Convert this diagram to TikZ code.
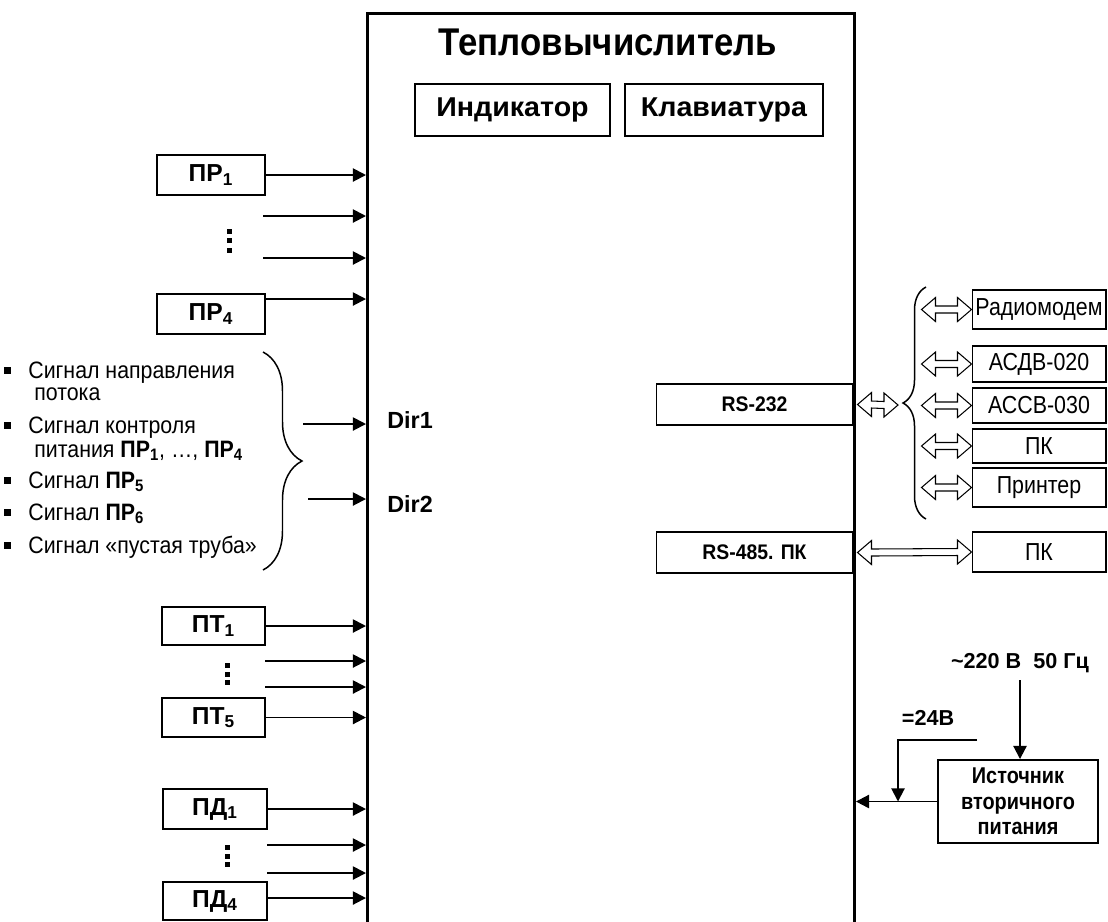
\documentclass[tikz,border=0pt]{standalone}
\usepackage{fontspec}
\setmainfont{Liberation Sans}
\usetikzlibrary{arrows.meta,calc,decorations.pathreplacing}
\begin{document}
\begin{tikzpicture}[x=0.02cm, y=-0.02cm,
  tvbox/.style={draw, line width=1.7pt, inner sep=0pt},
  ttl/.style={font=\fontsize{22}{26}\selectfont\bfseries\addfontfeature{FakeStretch=0.9}, inner sep=0pt},
  ibox/.style={draw, line width=1.4pt, font=\fontsize{15.5}{18}\selectfont\bfseries\addfontfeature{FakeStretch=1.05}, inner sep=0pt, minimum height=1.04cm},
  sensor/.style={draw, line width=1.4pt, font=\fontsize{14}{16}\selectfont\bfseries, inner sep=0pt},
  sig/.style={line width=1.1pt, -{Triangle[length=7.5pt,width=7.5pt]}},
  dirlbl/.style={font=\fontsize{13.3}{16}\selectfont\bfseries, anchor=base west, inner sep=0pt},
  lgd/.style={font=\fontsize{13.5}{16}\selectfont\addfontfeature{FakeStretch=0.9}, anchor=base west, inner sep=0pt},
  rsbox/.style={draw, line width=0.6pt, font=\fontsize{12}{14}\selectfont\bfseries\addfontfeature{FakeStretch=0.92}, inner sep=0pt, minimum width=3.94cm, minimum height=0.82cm},
  rbox/.style={draw, line width=0.6pt, font=\fontsize{14}{16}\selectfont\addfontfeature{FakeStretch=0.87}, inner sep=0pt, minimum width=2.68cm},
  pwr/.style={font=\fontsize{12.3}{14}\selectfont\bfseries, anchor=base, inner sep=0pt},
  pbox/.style={draw, line width=1.1pt, font=\fontsize{13}{14.5}\selectfont\bfseries\addfontfeature{FakeStretch=0.87}, inner sep=0pt, align=center},
  bracestyle/.style={decorate, line width=0.85pt},
  dblarr/.style={draw, line width=0.6pt, line join=miter,
    to path={-- ++(14,-12) -- ++(0,8.5) -- ($(\tikztotarget)+(-14,-3.5)$) -- ++(0,-8.5) -- (\tikztotarget)
             -- ++(-14,12) -- ++(0,-8.5) -- ($(\tikztostart)+(14,3.5)$) -- ++(0,8.5) -- cycle}}
]
\useasboundingbox (0,0) rectangle (1108,921);
\clip (0,0) rectangle (1108,921);

% main unit
\node[tvbox, minimum width=9.74cm, minimum height=18.5cm, anchor=north west] (tv) at (366,12) {};
\node[ttl, anchor=base] (title) at (608,55) {Тепловычислитель};
\node[ibox, minimum width=3.9cm] (ind) at (512.5,110) {Индикатор};
\node[ibox, minimum width=3.96cm] (kbd) at (724,110) {Клавиатура};

% flow sensors
\node[sensor, minimum width=2.16cm, minimum height=0.8cm] (pr1) at (211,175) {ПР\textsubscript{1}};
\node[sensor, minimum width=2.16cm, minimum height=0.8cm] (pr4) at (211,314) {ПР\textsubscript{4}};
\coordinate (r2) at (263,216);
\coordinate (r3) at (263,258);
\draw[sig] (pr1.east) -- (pr1.east -| tv.west);
\draw[sig] (r2) -- (r2 -| tv.west);
\draw[sig] (r3) -- (r3 -| tv.west);
\draw[sig] ([yshift=0.3cm]pr4.east) -- ([yshift=0.3cm]pr4.east -| tv.west);
\foreach \yy in {231.5,240.5,250.5} \fill (227,\yy-2.5) rectangle (232,\yy+2.5);

% temperature sensors
\node[sensor, minimum width=2.06cm, minimum height=0.76cm] (pt1) at (213.5,626) {ПТ\textsubscript{1}};
\node[sensor, minimum width=2.06cm, minimum height=0.78cm] (pt5) at (213.5,717.5) {ПТ\textsubscript{5}};
\coordinate (t2) at (265,661);
\coordinate (t3) at (265,687);
\draw[sig] (pt1.east) -- (pt1.east -| tv.west);
\draw[sig] (t2) -- (t2 -| tv.west);
\draw[sig] (t3) -- (t3 -| tv.west);
\draw[sig] (pt5.east) -- (pt5.east -| tv.west);
\foreach \yy in {665.5,674.5,682.5} \fill (225,\yy-2.5) rectangle (230,\yy+2.5);

% pressure sensors
\node[sensor, minimum width=2.08cm, minimum height=0.8cm] (pd1) at (215,809) {ПД\textsubscript{1}};
\node[sensor, minimum width=2.08cm, minimum height=0.76cm] (pd4) at (215,901) {ПД\textsubscript{4}};
\coordinate (d2) at (267,845);
\coordinate (d3) at (267,873);
\draw[sig] (pd1.east) -- (pd1.east -| tv.west);
\draw[sig] (d2) -- (d2 -| tv.west);
\draw[sig] (d3) -- (d3 -| tv.west);
\draw[sig] ([yshift=0.06cm]pd4.east) -- ([yshift=0.06cm]pd4.east -| tv.west);
\foreach \yy in {847.5,856,864.5} \fill (225,\yy-2.5) rectangle (230,\yy+2.5);

% legend
\foreach \yy in {370,425,480,512,545} \fill (3.5,\yy-3.5) rectangle (10.5,\yy+3.5);
\node[lgd] (l1) at (28,378) {Сигнал направления};
\node[lgd] (l1b) at (34,400) {потока};
\node[lgd] (l2) at (28,433) {Сигнал контроля};
\node[lgd] (l2b) at (34,457) {питания \textbf{ПР\textsubscript{1}}, …, \textbf{ПР\textsubscript{4}}};
\node[lgd] (l3) at (28,488) {Сигнал \textbf{ПР\textsubscript{5}}};
\node[lgd] (l4) at (28,520) {Сигнал \textbf{ПР\textsubscript{6}}};
\node[lgd] (l5) at (28,553) {Сигнал «пустая труба»};
\draw[bracestyle, decoration={brace, amplitude=0.78cm}] (263,352) -- (263,570);
\coordinate (dir1s) at (303,424);
\coordinate (dir2s) at (308,499);
\draw[sig] (dir1s) -- (dir1s -| tv.west);
\draw[sig] (dir2s) -- (dir2s -| tv.west);
\node[dirlbl] (dir1) at (387,428) {Dir1};
\node[dirlbl] (dir2) at (387,512) {Dir2};

% interfaces
\node[rsbox] (rs232) at (754.5,404.5) {RS-232};
\node[rsbox] (rs485) at (754.5,552.5) {RS-485. ПК};
\node[rbox, minimum height=0.78cm] (radio) at (1039,309.5) {Радиомодем};
\node[rbox, minimum height=0.72cm] (asdv) at (1039,364) {АСДВ-020};
\node[rbox, minimum height=0.7cm] (assv) at (1039,405.5) {АССВ-030};
\node[rbox, minimum height=0.68cm] (pk1) at (1039,446) {ПК};
\node[rbox, minimum height=0.78cm] (prn) at (1039,487.5) {Принтер};
\node[rbox, minimum height=0.8cm] (pk2) at (1039,552) {ПК};
\draw[bracestyle, decoration={brace, amplitude=0.46cm}] (926,519) -- (926,287);
\coordinate (b232) at (898,405);
\draw[dblarr] ([xshift=0.08cm]rs232.east) to (b232);
\foreach \n in {radio,asdv,assv,pk1,prn} \draw[dblarr] ([xshift=-1cm]\n.west) to (\n.west);
\draw[dblarr] ([xshift=0.08cm]rs485.east) to (pk2.west);

% power
\node[pwr] (ac) at (1020,668) {\textasciitilde220 В\ \ 50 Гц};
\node[pbox, minimum width=3.2cm, minimum height=1.66cm] (ist) at (1018,801.5) {Источник\\вторичного\\питания};
\coordinate (acs) at (1020,680);
\draw[sig] (acs) -- (acs |- ist.north);
\draw[sig] (ist.west) -- (ist.west -| tv.east);
\node[pwr] (v24) at (928,725) {=24В};
\coordinate (c24) at (977,740);
\coordinate (j24) at (898,801.5);
\draw[sig] (c24) -| (j24);
\end{tikzpicture}
\end{document}
